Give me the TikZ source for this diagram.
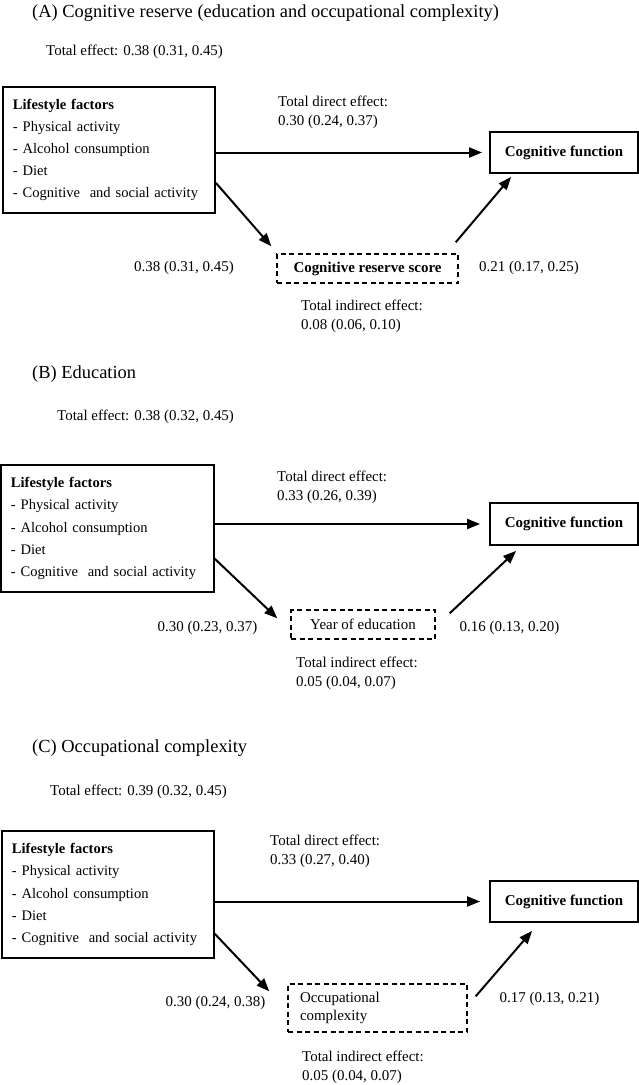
\documentclass[tikz,border=0pt]{standalone}
\usepackage{fontspec}
\setmainfont{Liberation Serif}
\usetikzlibrary{arrows.meta}
\tikzset{
  txt/.style={inner sep=0pt, font=\fontsize{15}{19}\selectfont, align=left},
  ttl/.style={inner sep=0pt, font=\fontsize{18.5}{22}\selectfont, anchor=west},
  lifebox/.style={draw, line width=1.7bp, inner xsep=10bp, inner ysep=0pt, align=left, text width=192bp, minimum width=212bp, font=\fontsize{14.6}{22.2}\selectfont},
  cogbox/.style={draw, line width=1.8bp, minimum width=148bp, inner sep=0pt, font=\fontsize{15}{18}\selectfont\bfseries},
  medbox/.style={draw, line width=1.4bp, dash pattern=on 5bp off 3.5bp, inner sep=0pt, font=\fontsize{15}{18}\selectfont},
  arr/.style={line width=2bp, -{Triangle[length=13bp,width=10bp]}}
}
\begin{document}
\begin{tikzpicture}[x=1bp,y=-1bp]
\useasboundingbox (0,0) rectangle (639,1085);

% ---------- Panel A ----------
\node[ttl] (tA) at (32,13) {(A) Cognitive reserve (education and occupational complexity)};
\node[txt, anchor=west] (teA) at (46,52) {Total effect: 0.38 (0.31, 0.45)};
\node[lifebox, minimum height=126bp] (lifeA) at (109,150)
  {\textbf{Lifestyle factors}\\- Physical activity\\- Alcohol consumption\\- Diet\\- Cognitive\ \ and social activity};
\node[cogbox, minimum height=41bp] (cogA) at (564,152.5) {Cognitive function};
\node[medbox, minimum width=181bp, minimum height=29bp, font=\fontsize{15}{18}\selectfont\bfseries] (dashA) at (367.5,268.5) {Cognitive reserve score};
\node[txt, anchor=west] (deA) at (278,112) {Total direct effect:\\0.30 (0.24, 0.37)};
\node[txt] (aA) at (184,268) {0.38 (0.31, 0.45)};
\node[txt] (bA) at (529,268) {0.21 (0.17, 0.25)};
\node[txt, anchor=west] (ieA) at (301,316.5) {Total indirect effect:\\0.08 (0.06, 0.10)};
\draw[arr] (lifeA.east |- cogA.west) -- ([shift={(-7,0)}]cogA.west);
\draw[arr] ([shift={(0,-31)}]lifeA.south east) -- ([shift={(-5,-7)}]dashA.north west);
\draw[arr] ([shift={(-3,-11)}]dashA.north east) -- ([shift={(22,3)}]cogA.south west);

% ---------- Panel B ----------
\node[ttl] (tB) at (32,374) {(B) Education};
\node[txt, anchor=west] (teB) at (57,417) {Total effect: 0.38 (0.32, 0.45)};
\node[lifebox, text width=193bp, minimum width=213bp, minimum height=127bp] (lifeB) at (107.5,528.5)
  {\textbf{Lifestyle factors}\\- Physical activity\\- Alcohol consumption\\- Diet\\- Cognitive\ \ and social activity};
\node[cogbox, minimum height=42bp] (cogB) at (564,524) {Cognitive function};
\node[medbox, minimum width=144bp, minimum height=29bp] (dashB) at (363,624.5) {Year of education\hspace{12bp}};
\node[txt, anchor=west] (deB) at (277,487.5) {Total direct effect:\\0.33 (0.26, 0.39)};
\node[txt] (aB) at (207.5,628) {0.30 (0.23, 0.37)};
\node[txt] (bB) at (509.5,628) {0.16 (0.13, 0.20)};
\node[txt, anchor=west] (ieB) at (296,673.5) {Total indirect effect:\\0.05 (0.04, 0.07)};
\draw[arr] (lifeB.east |- cogB.west) -- ([shift={(-9,0)}]cogB.west);
\draw[arr] ([shift={(0,-34)}]lifeB.south east) -- ([shift={(-13,9)}]dashB.north west);
\draw[arr] ([shift={(14,4)}]dashB.north east) -- ([shift={(27,5)}]cogB.south west);

% ---------- Panel C ----------
\node[ttl] (tC) at (32,748) {(C) Occupational complexity};
\node[txt, anchor=west] (teC) at (50,792) {Total effect: 0.39 (0.32, 0.45)};
\node[lifebox, minimum height=127bp] (lifeC) at (108,894.5)
  {\textbf{Lifestyle factors}\\- Physical activity\\- Alcohol consumption\\- Diet\\- Cognitive\ \ and social activity};
\node[cogbox, minimum height=41bp] (cogC) at (564,901.5) {Cognitive function};
\node[medbox, minimum width=179bp, minimum height=48bp, text width=155bp, inner xsep=12bp, align=left, font=\fontsize{15}{18}\selectfont] (dashC) at (377.5,1008) {Occupational\\complexity};
\node[txt, anchor=west] (deC) at (270,851.5) {Total direct effect:\\0.33 (0.27, 0.40)};
\node[txt] (aC) at (215.5,1003) {0.30 (0.24, 0.38)};
\node[txt] (bC) at (549.5,999) {0.17 (0.13, 0.21)};
\node[txt, anchor=west] (ieC) at (302,1067) {Total indirect effect:\\0.05 (0.04, 0.07)};
\draw[arr] (lifeC.east |- cogC.west) -- ([shift={(-9,0)}]cogC.west);
\draw[arr] ([shift={(0,-25)}]lifeC.south east) -- ([shift={(-18,8)}]dashC.north west);
\draw[arr] ([shift={(8,13)}]dashC.north east) -- ([shift={(43,8)}]cogC.south west);
\end{tikzpicture}
\end{document}
